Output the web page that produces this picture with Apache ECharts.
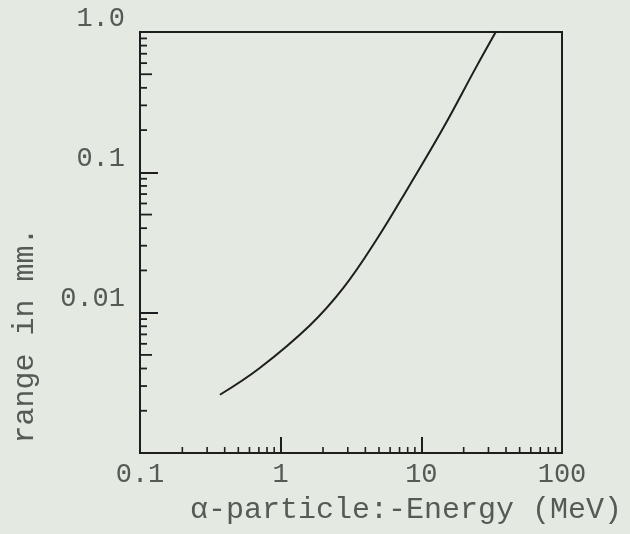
<!DOCTYPE html>
<html>
<head>
<meta charset="utf-8">
<script src="https://cdn.jsdelivr.net/npm/echarts@6/dist/echarts.min.js"></script>
<style>
	html, body { margin: 0; padding: 0; background: #e4e9e2; }
	#chart { width: 630px; height: 534px; }
</style>
</head>
<body>
<div id="chart"></div>
<script>
// alpha particle energy (MeV) vs range (mm)
var energy = [0.37, 0.71, 1.61, 2.79, 4.81, 8.3, 14.3, 24.7, 33.8];
var range = [0.0026, 0.00403, 0.0081, 0.015, 0.0332, 0.0817, 0.207, 0.569, 1.0];

var xTickLabels = {0.1: '0.1', 1: '1', 10: '10', 100: '100'};
var yTickLabels = {1: '1.0', 0.1: '0.1', 0.01: '0.01'};

var xMinorTicks = [0.2, 0.3, 0.4, 0.5, 0.6, 0.7, 0.8, 0.9, 2, 3, 4, 5, 6, 7, 8, 9, 20, 30, 40, 50, 60, 70, 80, 90];
var yMinorTicks = [0.002, 0.003, 0.004, 0.005, 0.006, 0.007, 0.008, 0.009,
	0.02, 0.03, 0.04, 0.05, 0.06, 0.07, 0.08, 0.09,
	0.2, 0.3, 0.4, 0.5, 0.6, 0.7, 0.8, 0.9];

var ink = '#1e1e1e';
var textColor = '#555a55';
var font = 'Liberation Mono';

var curve = [];
for (var i = 0; i < energy.length; i++) {
	curve.push([energy[i], range[i]]);
}

var xMinorData = xMinorTicks.map(function (v) { return [v, 0.001]; });
var yMinorData = yMinorTicks.map(function (v) { return [0.1, v]; });

function isFive(v) {
	var m = v / Math.pow(10, Math.floor(Math.log10(v) + 1e-9));
	return Math.abs(m - 5) < 1e-6;
}

var myChart = echarts.init(document.getElementById('chart'));
var option = {
	backgroundColor: '#e4e9e2',
	animation: false,
	grid: {
		left: 140, right: 68, top: 32, bottom: 81,
		show: true, borderColor: ink, borderWidth: 2,
		backgroundColor: 'transparent'
	},
	xAxis: {
		type: 'log', logBase: 10, min: 0.1, max: 100,
		name: 'α-particle:-Energy (MeV)',
		nameLocation: 'middle', nameGap: 42,
		nameTextStyle: { fontFamily: font, fontSize: 30, color: textColor, padding: [0, 0, 0, 110] },
		axisLine: { show: true, lineStyle: { color: ink, width: 2 } },
		axisTick: { show: true, inside: true, length: 16, lineStyle: { color: ink, width: 2 } },
		splitLine: { show: false },
		axisLabel: {
			fontFamily: font, fontSize: 27, color: textColor, margin: 8,
			formatter: function (v) { return xTickLabels[v] || ''; }
		}
	},
	yAxis: {
		type: 'log', logBase: 10, min: 0.001, max: 1,
		name: 'range in mm.',
		nameLocation: 'middle', nameGap: 100, nameRotate: 90,
		nameTextStyle: { fontFamily: font, fontSize: 30, color: textColor, padding: [0, 186, 0, 0] },
		axisLine: { show: true, lineStyle: { color: ink, width: 2 } },
		axisTick: { show: true, inside: true, length: 18, lineStyle: { color: ink, width: 2 } },
		splitLine: { show: false },
		axisLabel: {
			fontFamily: font, fontSize: 27, color: textColor, margin: 15,
			verticalAlign: 'bottom',
			formatter: function (v) { return yTickLabels[v] || ''; }
		}
	},
	series: [{
		name: 'range',
		type: 'line',
		smooth: 0.4,
		showSymbol: false,
		lineStyle: { color: ink, width: 2 },
		data: curve
	}, {
		type: 'custom',
		silent: true,
		clip: false,
		data: xMinorData,
		renderItem: function (params, api) {
			var p = api.coord([api.value(0), api.value(1)]);
			return {
				type: 'line',
				shape: { x1: p[0], y1: p[1], x2: p[0], y2: p[1] - 6 },
				style: { stroke: ink, lineWidth: 1.6 }
			};
		}
	}, {
		type: 'custom',
		silent: true,
		clip: false,
		data: yMinorData,
		renderItem: function (params, api) {
			var v = api.value(1);
			var p = api.coord([api.value(0), v]);
			var len = isFive(v) ? 12 : 7;
			return {
				type: 'line',
				shape: { x1: p[0], y1: p[1], x2: p[0] + len, y2: p[1] },
				style: { stroke: ink, lineWidth: 1.8 }
			};
		}
	}]
};
myChart.setOption(option);
</script>
</body>
</html>
